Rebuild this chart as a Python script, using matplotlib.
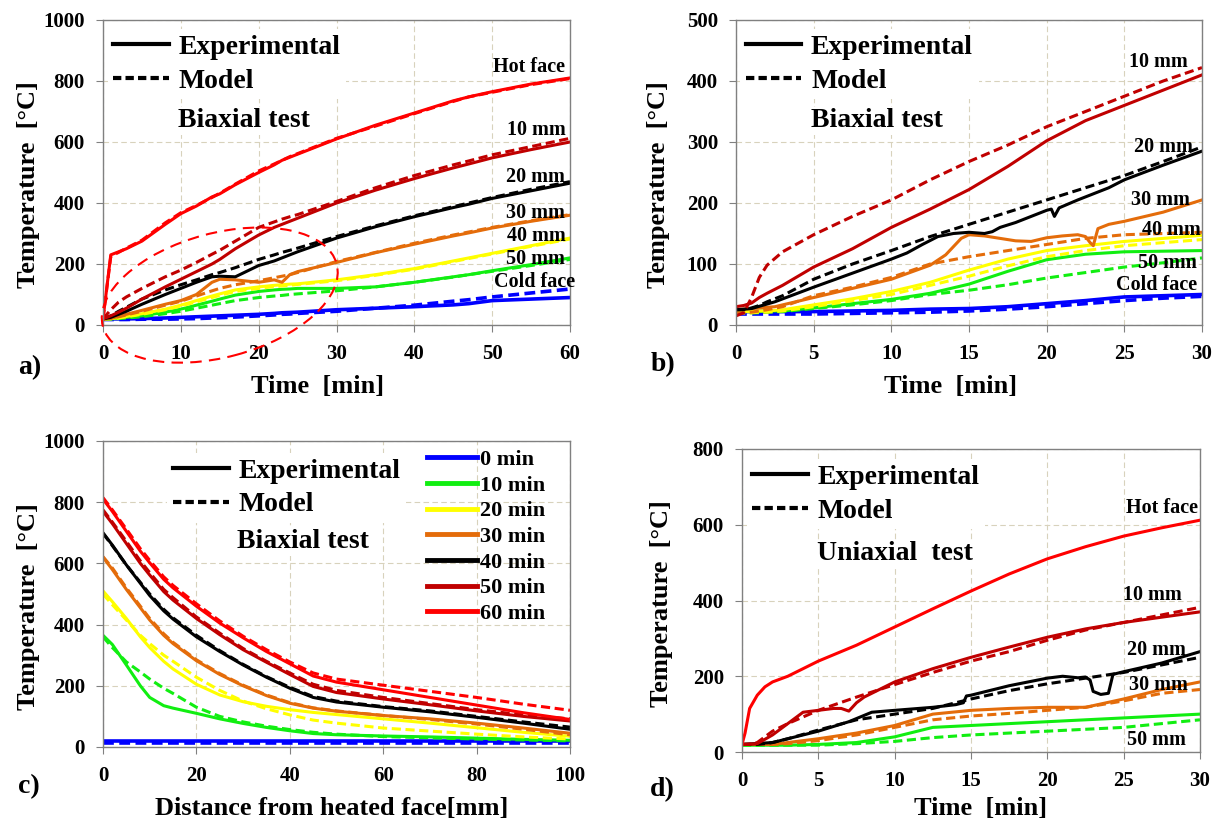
import matplotlib
matplotlib.use("Agg")
import matplotlib.pyplot as plt
from matplotlib.lines import Line2D
from matplotlib.patches import Ellipse
from matplotlib.transforms import ScaledTranslation

plt.rcParams["font.family"] = ["Liberation Serif", "DejaVu Serif"]
plt.rcParams["font.weight"] = "bold"
plt.rcParams["axes.labelweight"] = "bold"

# ---------------- data ----------------
# a) biaxial test, 0-60 min
a_t = [0, 1, 2, 3, 5, 8, 10, 12, 14, 15, 17, 20, 22, 23, 24, 25, 30, 35, 40, 45, 47, 50, 55, 60]
a_hot_exp = [20, 230, 240, 250, 275, 330, 365, 390, 420, 430, 460, 500, 525, 540, 550, 560, 610, 655, 695, 735, 748, 765, 790, 810]
a_hot_mod = [20, 225, 238, 252, 278, 335, 368, 392, 418, 432, 462, 505, 528, 540, 552, 562, 612, 652, 693, 733, 748, 763, 788, 808]
a_10_exp = [20, 30, 42, 55, 85, 125, 150, 175, 200, 215, 250, 295, 320, 330, 340, 350, 400, 442, 480, 515, 528, 548, 575, 600]
a_10_mod = [20, 50, 75, 92, 120, 158, 180, 205, 232, 245, 275, 320, 338, 347, 355, 362, 405, 450, 490, 525, 538, 558, 585, 612]
a_20_exp = [20, 25, 35, 45, 68, 100, 120, 140, 158, 160, 158, 195, 210, 220, 230, 240, 285, 322, 355, 385, 396, 415, 440, 465]
a_20_mod = [20, 30, 45, 58, 85, 115, 132, 148, 165, 172, 188, 215, 230, 238, 245, 252, 290, 325, 358, 388, 400, 418, 445, 470]
a_30_exp = [20, 22, 28, 35, 48, 68, 80, 100, 140, 150, 148, 140, 148, 140, 165, 175, 205, 237, 265, 292, 302, 318, 340, 360]
a_30_mod = [20, 22, 27, 33, 45, 65, 78, 95, 112, 120, 132, 145, 155, 160, 165, 172, 208, 238, 268, 295, 305, 320, 342, 362]
a_40_exp = [20, 21, 24, 28, 37, 52, 65, 80, 95, 102, 115, 125, 130, 132, 134, 135, 148, 165, 185, 210, 220, 235, 260, 285]
a_40_mod = [20, 20, 23, 27, 35, 50, 62, 76, 90, 97, 110, 120, 126, 128, 130, 133, 145, 163, 183, 208, 218, 233, 258, 282]
a_50_exp = [20, 20, 22, 25, 30, 42, 52, 65, 78, 85, 98, 110, 115, 117, 118, 120, 120, 125, 140, 158, 165, 178, 198, 220]
a_50_mod = [20, 20, 21, 23, 27, 37, 45, 55, 65, 70, 80, 90, 95, 97, 100, 102, 112, 125, 140, 157, 165, 176, 195, 215]
a_cold_exp = [20, 20, 20, 20, 21, 23, 25, 27, 29, 30, 32, 35, 38, 40, 41, 42, 50, 55, 60, 66, 70, 80, 85, 90]
a_cold_mod = [18, 18, 18, 18, 19, 19, 20, 21, 23, 24, 26, 30, 33, 35, 36, 38, 45, 55, 65, 78, 83, 92, 105, 118]

# b) biaxial test, 0-30 min
b_t = [0, 0.5, 1, 1.5, 2, 3, 5, 7.5, 10, 12.5, 15, 17.5, 20, 22.5, 25, 27.5, 30]
b_10_exp = [30, 32, 36, 45, 52, 65, 95, 125, 160, 190, 222, 260, 302, 335, 360, 385, 410]
b_10_mod = [15, 20, 45, 78, 98, 120, 148, 178, 205, 238, 268, 295, 325, 350, 375, 400, 422]
b_20_t = [0, 1, 2.5, 5, 7.5, 10, 11, 12, 13, 14, 15, 16, 16.5, 17, 18, 19, 20, 20.3, 20.5, 20.8, 22, 23, 23.5, 24, 25, 27.5, 30]
b_20_exp = [25, 27, 38, 62, 85, 108, 118, 132, 145, 150, 152, 150, 153, 160, 168, 178, 188, 190, 178, 192, 205, 215, 220, 225, 238, 262, 285]
b_20_mod = [25, 25, 28, 32, 38, 48, 75, 100, 122, 145, 165, 185, 205, 225, 245, 268, 292]
b_30_t = [0, 2.5, 5, 7.5, 10, 12.5, 13.5, 14.5, 15, 16, 17, 18, 19, 20, 21, 22, 22.5, 22.8, 23, 23.3, 24, 25, 27.5, 30]
b_30_exp = [25, 30, 45, 60, 75, 98, 115, 142, 148, 146, 142, 138, 137, 143, 146, 148, 145, 135, 130, 158, 165, 170, 185, 205]
b_30_mod = [20, 20, 21, 23, 25, 30, 48, 62, 78, 100, 112, 122, 132, 142, 148, 150, 152]
b_40_exp = [22, 22, 22, 23, 23, 25, 33, 43, 55, 70, 90, 108, 122, 130, 137, 142, 147]
b_40_mod = [20, 20, 20, 21, 21, 23, 30, 40, 50, 65, 80, 97, 112, 122, 130, 135, 140]
b_50_exp = [22, 22, 22, 22, 23, 23, 28, 35, 42, 52, 67, 88, 107, 116, 120, 121, 122]
b_50_mod = [20, 20, 20, 20, 21, 22, 27, 33, 40, 50, 57, 66, 77, 86, 95, 102, 110]
b_cold_exp = [22, 22, 22, 22, 22, 22, 22, 23, 24, 26, 27, 30, 35, 40, 46, 48, 50]
b_cold_mod = [18, 18, 18, 18, 18, 18, 18, 19, 20, 21, 23, 26, 30, 35, 40, 44, 47]

# c) temperature profiles, distance from heated face [mm]
c_x = [0, 2, 5, 8, 10, 13, 15, 20, 25, 30, 35, 40, 45, 50, 60, 70, 80, 90, 100]
c_0_exp = [20] * 19
c_0_mod = [14] * 19
c_10_exp = [365, 335, 268, 200, 162, 135, 127, 110, 92, 77, 64, 53, 44, 40, 36, 33, 29, 25, 22]
c_10_mod = [360, 325, 278, 245, 222, 192, 175, 130, 100, 82, 68, 57, 48, 42, 34, 30, 26, 23, 20]
c_20_exp = [510, 475, 420, 360, 325, 280, 255, 205, 170, 148, 133, 122, 113, 106, 92, 78, 63, 48, 35]
c_20_mod = [500, 465, 415, 365, 338, 300, 280, 228, 185, 150, 125, 105, 88, 78, 62, 52, 42, 33, 26]
c_30_exp = [620, 580, 515, 455, 415, 365, 338, 282, 237, 200, 168, 143, 127, 117, 103, 92, 78, 62, 45]
c_30_mod = [622, 585, 520, 460, 420, 370, 342, 285, 240, 202, 170, 145, 128, 118, 103, 90, 75, 58, 40]
c_40_exp = [700, 660, 595, 535, 495, 445, 418, 360, 312, 268, 228, 192, 162, 147, 130, 115, 97, 78, 58]
c_40_mod = [698, 658, 595, 538, 500, 450, 422, 365, 315, 270, 230, 195, 165, 150, 132, 118, 100, 82, 65]
c_50_exp = [770, 730, 665, 600, 562, 508, 480, 420, 367, 318, 277, 237, 198, 178, 157, 138, 118, 100, 85]
c_50_mod = [775, 735, 672, 608, 570, 515, 488, 425, 372, 322, 280, 242, 205, 185, 162, 142, 122, 105, 92]
c_60_exp = [810, 770, 705, 640, 602, 548, 520, 460, 405, 357, 312, 272, 232, 212, 187, 162, 137, 112, 90]
c_60_mod = [815, 775, 712, 648, 610, 556, 528, 468, 412, 362, 318, 278, 242, 222, 202, 182, 162, 140, 120]
c_times = ["0 min", "10 min", "20 min", "30 min", "40 min", "50 min", "60 min"]

# d) uniaxial test, 0-30 min
d_t = [0, 0.2, 0.5, 1, 1.5, 2, 3, 5, 7.5, 10, 12.5, 15, 17.5, 20, 22.5, 25, 27.5, 30]
d_hot_exp = [20, 50, 115, 150, 172, 185, 200, 240, 282, 330, 378, 425, 470, 510, 542, 570, 592, 612]
d_10_t = [0, 1, 2, 3, 4, 5, 6, 6.5, 7, 7.5, 8, 10, 12.5, 15, 17.5, 20, 22.5, 25, 27.5, 30]
d_10_exp = [20, 22, 45, 75, 105, 110, 115, 115, 108, 130, 145, 185, 220, 250, 277, 303, 325, 342, 356, 370]
d_10_mod = [20, 20, 20, 25, 40, 55, 75, 110, 145, 178, 210, 240, 265, 295, 322, 342, 362, 382]
d_20_t = [0, 2, 3, 5, 7, 8.5, 10, 12.5, 14, 14.5, 14.7, 15, 17.5, 20, 21, 22, 22.5, 22.8, 23, 23.5, 24, 24.3, 25, 27.5, 30]
d_20_exp = [20, 25, 35, 55, 80, 105, 110, 118, 125, 130, 148, 150, 175, 195, 200, 196, 198, 190, 160, 152, 155, 205, 212, 235, 265]
d_20_mod = [20, 20, 20, 20, 22, 25, 35, 58, 85, 100, 115, 140, 162, 180, 195, 210, 230, 250]
d_30_exp = [20, 20, 20, 20, 20, 20, 25, 35, 50, 70, 100, 110, 115, 118, 118, 140, 165, 185]
d_30_mod = [20, 20, 20, 20, 20, 20, 22, 30, 45, 65, 85, 95, 102, 110, 118, 135, 155, 165]
d_50_exp = [18, 18, 18, 18, 18, 18, 18, 20, 25, 40, 65, 70, 75, 80, 85, 90, 95, 100]
d_50_mod = [18, 18, 18, 18, 18, 18, 18, 18, 22, 28, 38, 45, 50, 55, 60, 65, 75, 85]

# ---------------- style ----------------
RED = "#ff0000"
DRED = "#c00000"
BLACK = "#000000"
ORANGE = "#e46c0a"
YELLOW = "#ffff00"
GREEN = "#11ee11"
BLUE = "#0000ff"
GRID_C = "#d8d2bc"
SPINE_C = "#808080"
LW = 2.2
MODEL_DASH = (3.0, 1.5)

W, H = 1224, 823
fig = plt.figure(figsize=(W / 100, H / 100), dpi=100)


def px_axes(left, top, right, bottom):
    return fig.add_axes([left / W, 1 - bottom / H, (right - left) / W, (bottom - top) / H])


def style(ax, xlim, ylim, xticks, yticks):
    ax.set_xlim(*xlim)
    ax.set_ylim(*ylim)
    ax.set_xticks(xticks)
    ax.set_yticks(yticks)
    ax.grid(True, color=GRID_C, ls=(0, (5, 3)), lw=0.8)
    ax.set_axisbelow(True)
    for s in ax.spines.values():
        s.set_color(SPINE_C)
        s.set_linewidth(1.0)
    ax.tick_params(direction="out", length=5, color=SPINE_C, labelsize=15)
    ax.tick_params(axis="x", pad=9)
    ax.tick_params(axis="y", pad=8)


def pair(ax, t_exp, exp, t_mod, mod, color, lw=LW):
    ax.plot(t_exp, exp, color=color, lw=lw)
    if mod is not None:
        ax.plot(t_mod, mod, color=color, lw=lw, dashes=MODEL_DASH)


def labels(ax, xlabel, ylabel, xl_pos, yl_pos):
    ax.set_xlabel(xlabel, fontsize=19)
    ax.set_ylabel(ylabel, fontsize=19)
    ax.xaxis.label.set_va("center")
    ax.yaxis.label.set_va("center")
    ax.xaxis.set_label_coords(*xl_pos)
    ax.yaxis.set_label_coords(*yl_pos)


def main_legend(ax, x, y, note, note_x, note_y):
    h = [Line2D([], [], color="k", lw=3), Line2D([], [], color="k", lw=3, dashes=(2.0, 1.0))]
    leg = ax.legend(h, ["Experimental", "Model"], loc="upper left", bbox_to_anchor=(x, y),
                    frameon=True, facecolor="white", edgecolor="none", framealpha=1,
                    fancybox=False, prop={"size": 20, "weight": "bold"}, handlelength=2.0,
                    handletextpad=0.35, labelspacing=0.3, borderpad=0.2, borderaxespad=0)
    ax.text(note_x, note_y, note, transform=ax.transAxes, fontsize=20, ha="left", va="center",
            bbox=dict(facecolor="white", edgecolor="none", pad=1))
    return leg


def curve_labels(ax, items):
    for x, y, s in items:
        ax.text(x, y, s, fontsize=14.5, ha="right", va="center", clip_on=False, zorder=5)


# ---------------- a) ----------------
ax = px_axes(103, 20, 570, 325)
style(ax, (0, 60), (0, 1000), range(0, 61, 10), range(0, 1001, 200))
pair(ax, a_t, a_cold_exp, a_t, a_cold_mod, BLUE, 2.6)
pair(ax, a_t, a_50_exp, a_t, a_50_mod, GREEN)
pair(ax, a_t, a_40_exp, a_t, a_40_mod, YELLOW)
pair(ax, a_t, a_30_exp, a_t, a_30_mod, ORANGE)
pair(ax, a_t, a_20_exp, a_t, a_20_mod, BLACK)
pair(ax, a_t, a_10_exp, a_t, a_10_mod, DRED)
pair(ax, a_t, a_hot_exp, a_t, a_hot_mod, RED)
main_legend(ax, 0.01, 0.97, "Biaxial test", 0.161, 0.67)
curve_labels(ax, [(59.4, 847, "Hot face"), (59.4, 640, "10 mm"), (59.4, 486, "20 mm"),
                  (59.4, 368, "30 mm"), (59.4, 292, "40 mm"), (59.4, 216, "50 mm"),
                  (60.6, 141, "Cold face")])
# highlighted region: centre in data units, size in inches
ell = Ellipse((0, 0), 2.42, 1.24, angle=15, fill=False, edgecolor=RED, lw=1.5,
              ls=(0, (5.5, 3.5)), clip_on=False, zorder=6,
              transform=fig.dpi_scale_trans + ScaledTranslation(15.0, 98, ax.transData))
ax.add_patch(ell)
labels(ax, "Time  [min]", "Temperature  [°C]", (0.46, -0.203), (-0.16, 0.46))

# ---------------- b) ----------------
ax = px_axes(736, 20, 1202, 325)
style(ax, (0, 30), (0, 500), range(0, 31, 5), range(0, 501, 100))
pair(ax, b_t, b_cold_exp, b_t, b_cold_mod, BLUE, 2.6)
pair(ax, b_t, b_50_exp, b_t, b_50_mod, GREEN)
pair(ax, b_t, b_40_exp, b_t, b_40_mod, YELLOW)
pair(ax, b_30_t, b_30_exp, b_t, b_30_mod, ORANGE)
pair(ax, b_20_t, b_20_exp, b_t, b_20_mod, BLACK)
pair(ax, b_t, b_10_exp, b_t, b_10_mod, DRED)
main_legend(ax, 0.009, 0.97, "Biaxial test", 0.161, 0.67)
curve_labels(ax, [(29.1, 431, "10 mm"), (29.4, 292, "20 mm"), (29.2, 205, "30 mm"),
                  (29.9, 156, "40 mm"), (29.7, 101, "50 mm"), (29.7, 66, "Cold face")])
labels(ax, "Time  [min]", "Temperature  [°C]", (0.46, -0.203), (-0.166, 0.46))

# ---------------- c) ----------------
ax = px_axes(103, 441, 570, 747)
style(ax, (0, 100), (0, 1000), range(0, 101, 20), range(0, 1001, 200))
c_exp = [c_0_exp, c_10_exp, c_20_exp, c_30_exp, c_40_exp, c_50_exp, c_60_exp]
c_mod = [c_0_mod, c_10_mod, c_20_mod, c_30_mod, c_40_mod, c_50_mod, c_60_mod]
c_cols = [BLUE, GREEN, YELLOW, ORANGE, BLACK, DRED, RED]
for e, m, col in zip(c_exp, c_mod, c_cols):
    pair(ax, c_x, e, c_x, m, col, 2.6 if col == BLUE else LW)
th = [Line2D([], [], color=col, lw=3.5) for col in c_cols]
leg_t = ax.legend(th, c_times, loc="upper left", bbox_to_anchor=(0.685, 0.987), frameon=False,
                  prop={"size": 16, "weight": "bold"}, handlelength=2.25, handletextpad=0.1,
                  labelspacing=0.23, borderpad=0.2, borderaxespad=0)
main_legend(ax, 0.138, 0.962, "Biaxial test", 0.287, 0.67)
ax.add_artist(leg_t)
labels(ax, "Distance from heated face[mm]", "Temperature  [°C]", (0.49, -0.2), (-0.16, 0.46))

# ---------------- d) ----------------
ax = px_axes(742, 449, 1200, 752)
style(ax, (0, 30), (0, 800), range(0, 31, 5), range(0, 801, 200))
pair(ax, d_t, d_50_exp, d_t, d_50_mod, GREEN)
pair(ax, d_t, d_30_exp, d_t, d_30_mod, ORANGE)
pair(ax, d_20_t, d_20_exp, d_t, d_20_mod, BLACK)
pair(ax, d_10_t, d_10_exp, d_t, d_10_mod, DRED)
pair(ax, d_t, d_hot_exp, None, None, RED)
main_legend(ax, 0.01, 0.967, "Uniaxial  test", 0.164, 0.655)
curve_labels(ax, [(29.9, 644, "Hot face"), (28.8, 414, "10 mm"), (29.1, 269, "20 mm"),
                  (29.2, 177, "30 mm"), (29.1, 32, "50 mm")])
labels(ax, "Time  [min]", "Temperature  [°C]", (0.52, -0.185), (-0.176, 0.49))

# panel letters
for s, x, y in [("a)", 30, 368), ("b)", 663, 365), ("c)", 29, 787), ("d)", 662, 790)]:
    fig.text(x / W, 1 - y / H, s, fontsize=20, ha="center", va="center")

fig.savefig("out.png", dpi=100)
